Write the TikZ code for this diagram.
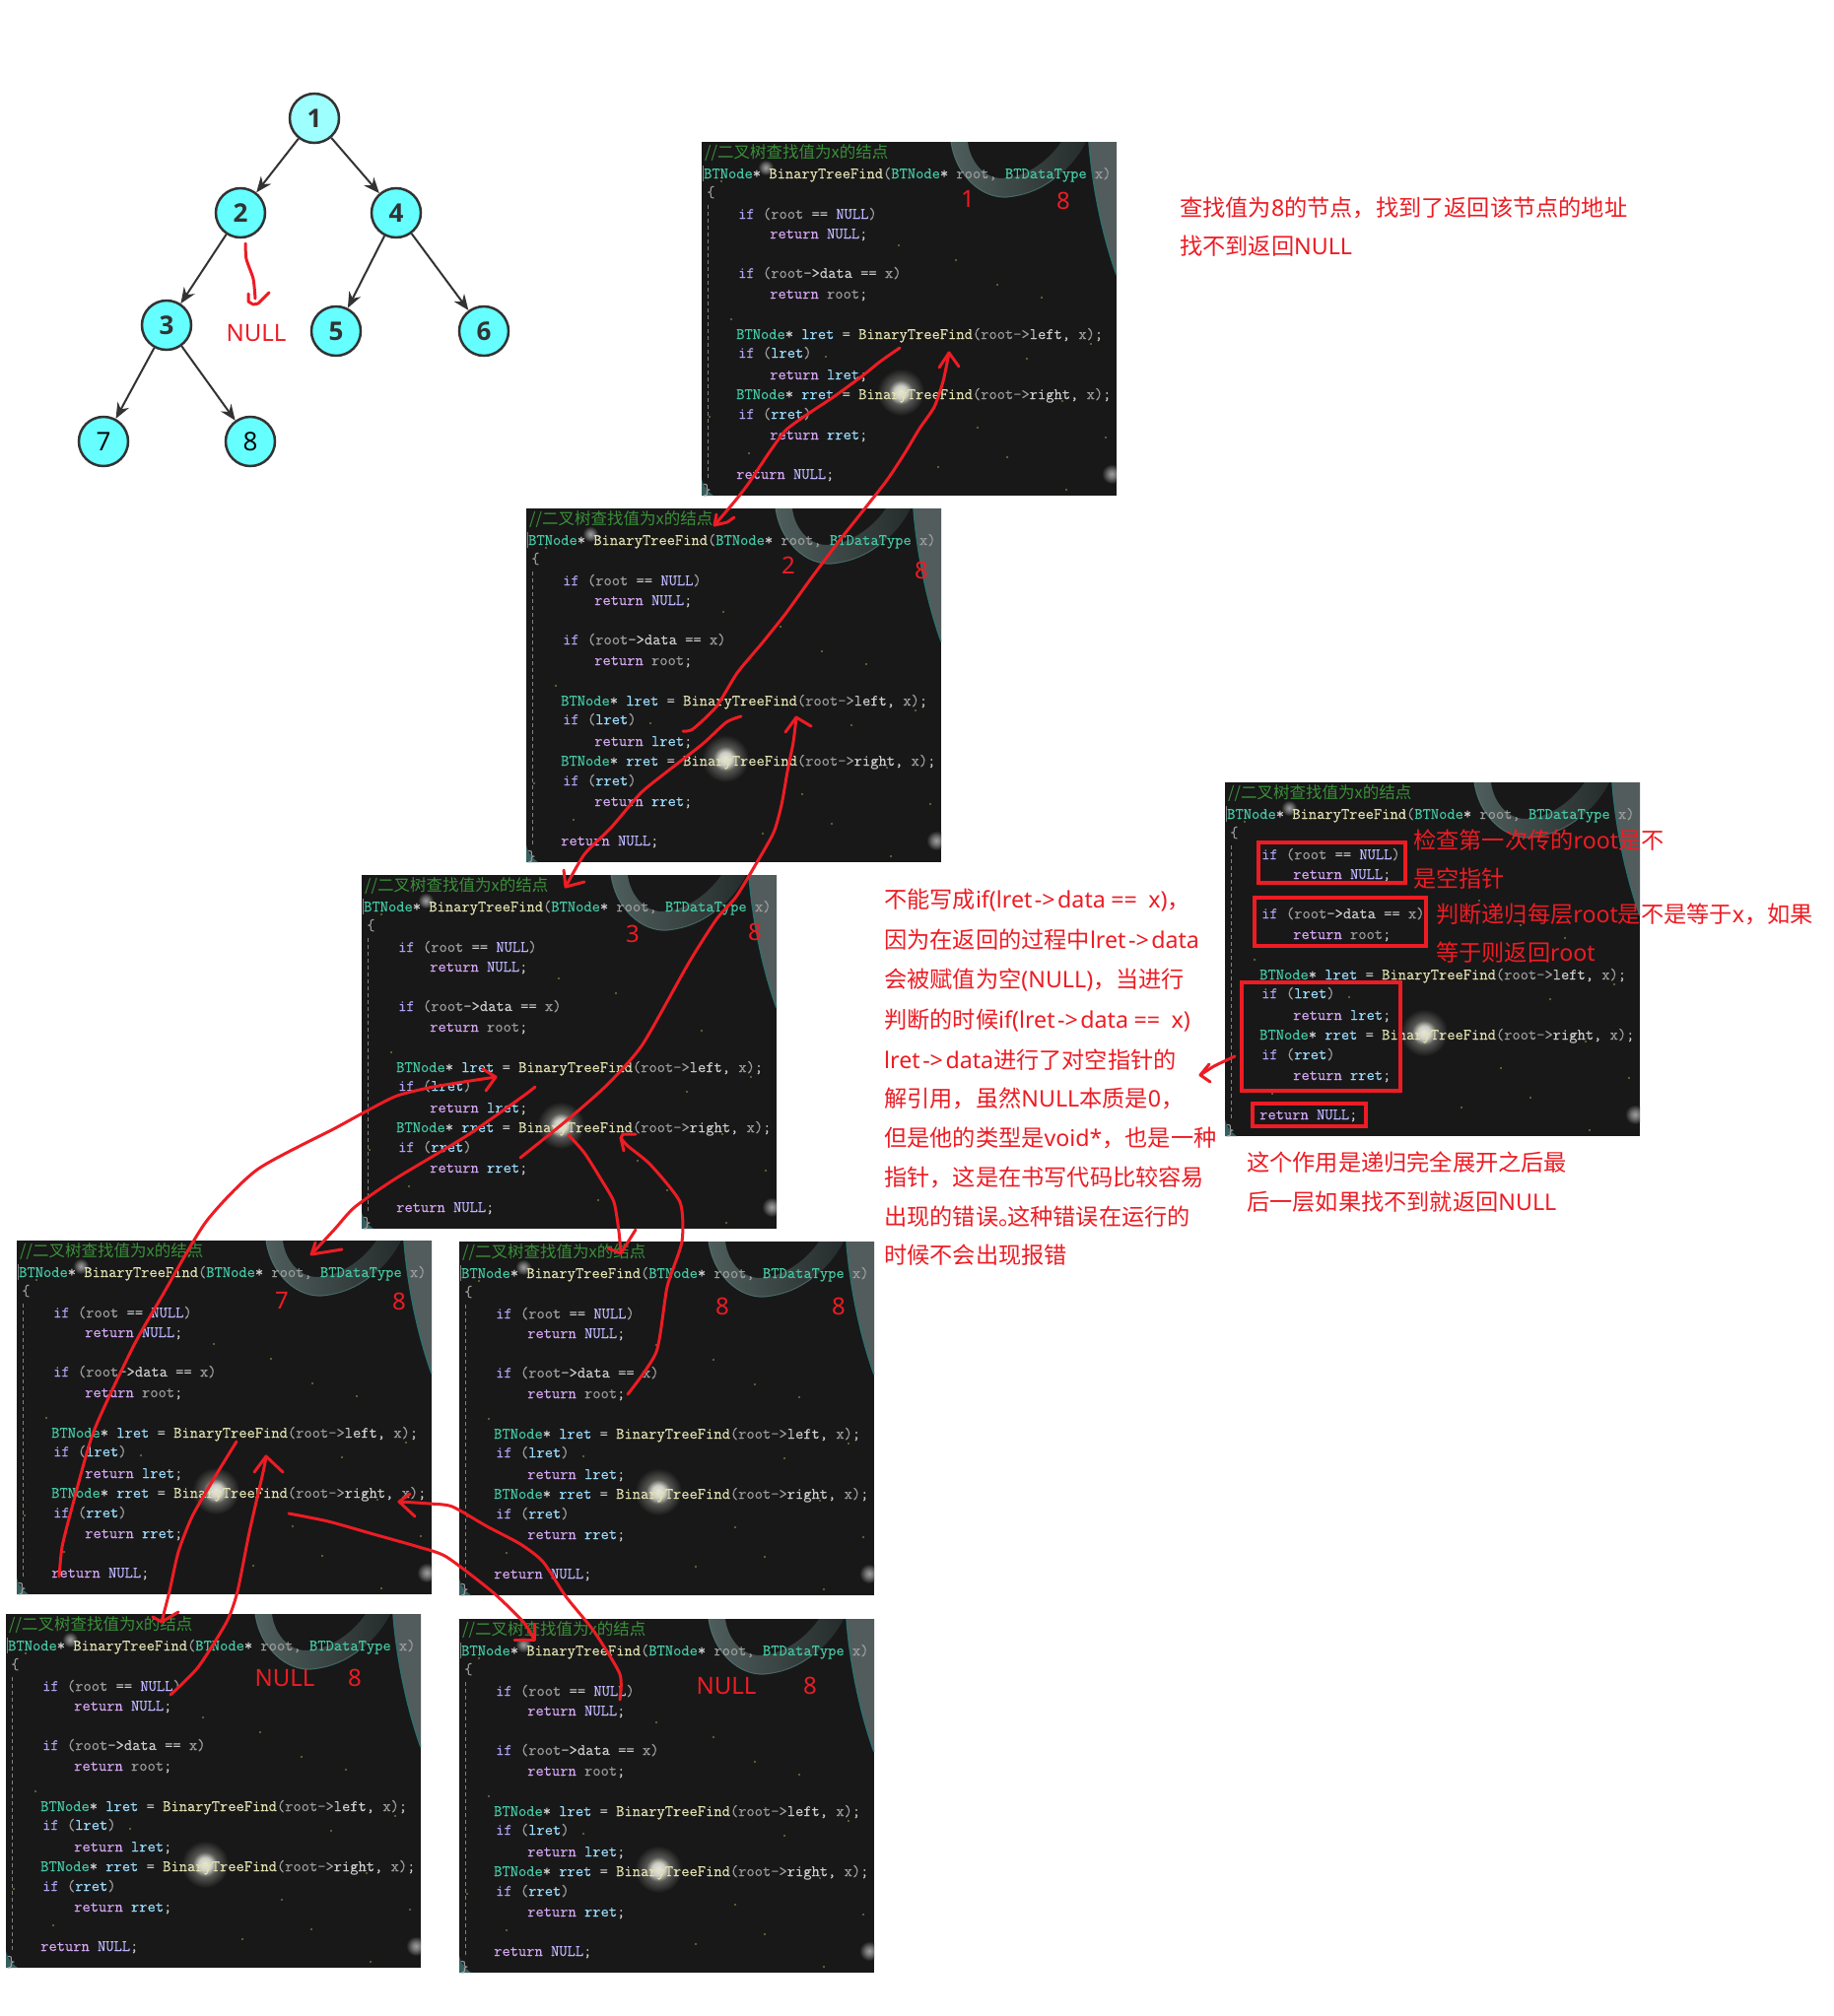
\documentclass[tikz,border=0pt]{standalone}
\usepackage{fontspec}
\usetikzlibrary{arrows.meta}
\newfontfamily\cjkf{Noto Sans CJK SC}
\newfontfamily\numf{Open Sans}
\newfontfamily\latf{Noto Sans}
\setmonofont[FakeBold=0.25]{Latin Modern Mono}
\newcommand\lat[1]{{\latf #1}}
\newcommand\lrd{lret\kern2.5pt->\kern2.5pt data}
\newcommand\eqq{\kern5.5pt == \kern5.5pt}
\definecolor{pbg}{HTML}{181818}
\definecolor{redink}{HTML}{ED1C24}
\definecolor{kwa}{HTML}{B0A4F4}
\definecolor{kwb}{HTML}{D4A6F2}
\definecolor{typec}{HTML}{45C8A4}
\definecolor{fnc}{HTML}{E2E2B2}
\definecolor{parc}{HTML}{9C9C9C}
\definecolor{nullc}{HTML}{BDB6FF}
\definecolor{varc}{HTML}{9CDCFE}
\definecolor{opc}{HTML}{CCCCCC}
\definecolor{cmtc}{HTML}{3A8F3A}
\definecolor{rootfill}{HTML}{9EFFFF}
\definecolor{nodefill}{HTML}{66FFFF}
\definecolor{edgec}{HTML}{333333}
\definecolor{moonl}{HTML}{4E5E5C}
\definecolor{moonr}{HTML}{262C2C}
\definecolor{moonrim}{HTML}{55807C}
\definecolor{bandf}{HTML}{525C5C}
\definecolor{bande}{HTML}{2F6E6C}
\definecolor{cornerf}{HTML}{355F5E}
\pgfdeclareradialshading{glowbig}{\pgfpointorigin}{rgb(0bp)=(.92,.92,.88);rgb(7bp)=(.8,.8,.76);rgb(13bp)=(.34,.34,.33);rgb(25bp)=(.094,.094,.094);rgb(50bp)=(.094,.094,.094)}
\pgfdeclareradialshading{glowdim}{\pgfpointorigin}{rgb(0bp)=(.62,.62,.62);rgb(10bp)=(.45,.45,.45);rgb(25bp)=(.094,.094,.094);rgb(50bp)=(.094,.094,.094)}
\newcommand\ifk{\textcolor{kwa}{if}}
\newcommand\retk{\textcolor{kwb}{return}}
\newcommand\btn{\textcolor{typec}{BTNode}\textcolor{opc}{*}}
\newcommand\fnk{\textcolor{fnc}{BinaryTreeFind}}
\newcommand\rootv{\textcolor{parc}{root}}
\newcommand\nullk{\textcolor{nullc}{NULL}}
\newcommand\lretv{\textcolor{varc}{lret}}
\newcommand\rretv{\textcolor{varc}{rret}}
\newcommand\opx[1]{\textcolor{opc}{#1}}
\newcommand\parx[1]{\textcolor{parc}{#1}}
\tikzset{
  x=1pt,y=-1pt,
  panelbg/.style={fill=pbg,draw=none,inner sep=0pt,minimum width=421pt,minimum height=359pt,anchor=north west},
  codeline/.style={inner sep=0pt,anchor=base west,font=\ttfamily\fontsize{16.05}{16}\selectfont},
  ink/.style={draw=redink,line width=3pt,line cap=round,line join=round},
  boxink/.style={draw=redink,line width=4pt,fill=none},
  treenode/.style={circle,draw=edgec,line width=2.5pt,fill=#1,minimum size=50pt,inner sep=0pt,text=edgec,font=\numf\bfseries\fontsize{26}{26}\selectfont},
  leafnode/.style={circle,draw=edgec,line width=2.5pt,fill=#1,minimum size=50pt,inner sep=0pt,text=black,font=\numf\fontsize{26}{26}\selectfont},
  treeedge/.style={draw=edgec,line width=2pt,-{Stealth[length=16pt,width=13pt]}},
  rednote/.style={inner sep=0pt,anchor=west,text=redink,font=\cjkf\fontsize{23.2}{24}\selectfont},
  rednum/.style={inner sep=0pt,text=redink,font=\latf\fontsize{24}{25}\selectfont},
}
\newcommand\codepanel[3]{%
  \node[panelbg] (#1) at (#2,#3) {};
  \begin{scope}[shift={(#2,#3)}]
    \begin{scope}
      \clip (0,0) rectangle (421,359);
      \shade[left color=moonl,right color=moonr] (253,0) .. controls (258,35) and (285,58) .. (310,56) .. controls (345,52) and (375,30) .. (390,0) -- (365,0) .. controls (350,22) and (325,37) .. (305,37) .. controls (285,37) and (272,18) .. (270,0) -- cycle;
      \draw[color=moonrim,line width=1pt,opacity=.7] (253,0) .. controls (258,35) and (285,58) .. (310,56) .. controls (330,54) and (345,47) .. (358,37);
      \fill[bandf] (393,0) .. controls (396,40) and (405,90) .. (421,135) -- (421,0) -- cycle;
      \draw[color=bande,line width=1.5pt] (393,0) .. controls (396,40) and (405,90) .. (421,135);
      \fill[cornerf] (0,342) .. controls (2,350) and (6,355) .. (12,359) -- (0,359) -- cycle;
      \shade[shading=glowbig] (202,254) circle (24);
      \shade[shading=glowdim] (416,337) circle (10);
      \shade[shading=glowdim] (65,26) circle (8);
      \foreach \sx/\sy in {345/158,126/218,48/316,370/353,8/279,366/263,258/120,300/145,20/40,150/70,240/330,330/220,395/205,410/300,280/290,175/15,30/180,200/105,310/320}
        \fill[yellow!50!gray,opacity=.55] (\sx,\sy) circle (1.1);
      \draw[gray,line width=.8pt,dash pattern=on 4pt off 3pt] (6,64) -- (6,343);
      \draw[gray,line width=.8pt] (1,24) -- (1,40);
    \end{scope}
    \node[inner sep=0pt,anchor=base west,font=\cjkf\fontsize{16.5}{16}\selectfont,text=cmtc] (#1c0) at (3,16) {//二叉树查找值为x的结点};
    \node[codeline] (#1c1) at (2,37) {\btn\ \fnk\parx{(}\btn\ \rootv\parx{,} \textcolor{typec}{BTDataType} \parx{x)}};
    \node[codeline] (#1c2) at (5,56) {\parx{\{}};
    \node[codeline] (#1c3) at (37,78) {\ifk\ \parx{(}\rootv\ \opx{==} \nullk\parx{)}};
    \node[codeline] (#1c4) at (69,98) {\retk\ \nullk\opx{;}};
    \node[codeline] (#1c5) at (37,138) {\ifk\ \parx{(root}\opx{->data ==} \parx{x)}};
    \node[codeline] (#1c6) at (69,159) {\retk\ \rootv\opx{;}};
    \node[codeline] (#1c7) at (35,200) {\btn\ \lretv\ \opx{=} \fnk\parx{(root->}\opx{left,} \parx{x)}\opx{;}};
    \node[codeline] (#1c8) at (37,219) {\ifk\ \parx{(}\lretv\parx{)}};
    \node[codeline] (#1c9) at (69,241) {\retk\ \lretv\opx{;}};
    \node[codeline] (#1c10) at (35,261) {\btn\ \rretv\ \opx{=} \fnk\parx{(root->}\opx{right,} \parx{x)}\opx{;}};
    \node[codeline] (#1c11) at (37,281) {\ifk\ \parx{(}\rretv\parx{)}};
    \node[codeline] (#1c12) at (69,302) {\retk\ \rretv\opx{;}};
    \node[codeline] (#1c13) at (35,342) {\retk\ \nullk\opx{;}};
    \node[codeline] (#1c14) at (1,358) {\parx{\}}};
  \end{scope}%
}
\begin{document}
\begin{tikzpicture}
\useasboundingbox (0,0) rectangle (1861,2046);
\fill[white] (0,0) rectangle (1861,2046);

% tree
\node[treenode=rootfill] (n1) at (319,120) {1};
\node[treenode=nodefill] (n2) at (244,216) {2};
\node[treenode=nodefill] (n4) at (402,216) {4};
\node[treenode=nodefill] (n3) at (169,330) {3};
\node[treenode=nodefill] (n5) at (341,336) {5};
\node[treenode=nodefill] (n6) at (491,336) {6};
\node[leafnode=nodefill] (n7) at (105,448) {7};
\node[leafnode=nodefill] (n8) at (254,448) {8};
\draw[treeedge] (n1) -- (n2);
\draw[treeedge] (n1) -- (n4);
\draw[treeedge] (n2) -- (n3);
\draw[treeedge] (n4) -- (n5);
\draw[treeedge] (n4) -- (n6);
\draw[treeedge] (n3) -- (n7);
\draw[treeedge] (n3) -- (n8);
\node[rednum] (nullt) at (260,338) {NULL};
\coordinate (t0) at (249,247);
\coordinate (t1) at (259,303);
\draw[ink] plot[smooth,tension=.4] coordinates {(t0) (250,263) (257,283) (t1)};
\draw[ink] (252,298) -- (252,306) -- (257,309) -- (262,308) -- (273,297);

% panels
\codepanel{pa}{712}{144}
\codepanel{pb}{534}{516}
\codepanel{pc}{367}{888}
\codepanel{pd}{17}{1259}
\codepanel{pe}{466}{1260}
\codepanel{pf}{6}{1638}
\codepanel{pg}{466}{1643}
\codepanel{ph}{1243}{794}

% red numbers
\node[rednum] (ra1) at (982,202) {1};
\node[rednum] (ra2) at (1079,204) {8};
\node[rednum] (rb1) at (800,574) {2};
\node[rednum] (rb2) at (935,579) {8};
\node[rednum] (rc1) at (642,948) {3};
\node[rednum] (rc2) at (766,946) {8};
\node[rednum] (rd1) at (286,1320) {7};
\node[rednum] (rd2) at (405,1321) {8};
\node[rednum] (re1) at (733,1326) {8};
\node[rednum] (re2) at (851,1326) {8};
\node[rednum] (rf1) at (289,1703) {NULL};
\node[rednum] (rf2) at (360,1703) {8};
\node[rednum] (rg1) at (737,1711) {NULL};
\node[rednum] (rg2) at (822,1711) {8};

% boxes on the last panel
\draw[boxink] (1277,855) rectangle (1426,896);
\draw[boxink] (1273,911) rectangle (1447,960);
\draw[boxink] (1260,997) rectangle (1421,1107);
\draw[boxink] (1271,1120) rectangle (1386,1143);

% notes
\node[rednote] (t1a) at (1197,211) {查找值为\lat{8}的节点，找到了返回该节点的地址};
\node[rednote] (t1b) at (1197,250) {找不到返回\lat{NULL}};
\node[rednote] (l1) at (897,914) {不能写成\lat{if(\lrd\eqq x)}，};
\node[rednote] (l2) at (897,954) {因为在返回的过程中\lat{\lrd}};
\node[rednote] (l3) at (897,995) {会被赋值为空\lat{(NULL)}，当进行};
\node[rednote] (l4) at (897,1036) {判断的时候\lat{if(\lrd\eqq x)}};
\node[rednote] (l5) at (897,1076) {\lat{\lrd}进行了对空指针的};
\node[rednote] (l6) at (897,1115) {解引用，虽然\lat{NULL}本质是\lat{0}，};
\node[rednote] (l7) at (897,1155) {但是他的类型是\lat{void*}，也是一种};
\node[rednote] (l8) at (897,1195) {指针，这是在书写代码比较容易};
\node[rednote] (l9) at (897,1235) {出现的错误\hbox to 9pt{。\hss}这种错误在运行的};
\node[rednote] (l10) at (897,1274) {时候不会出现报错};
\node[rednote] (h1) at (1434,853) {检查第一次传的\lat{root}是不};
\node[rednote] (h2) at (1434,892) {是空指针};
\node[rednote] (h3) at (1457,928) {判断递归每层\lat{root}是不是等于\lat{x}，如果};
\node[rednote] (h4) at (1457,967) {等于则返回\lat{root}};
\node[rednote] (h5) at (1265,1180) {这个作用是递归完全展开之后最};
\node[rednote] (h6) at (1265,1220) {后一层如果找不到就返回\lat{NULL}};

% hand-drawn arrows
\coordinate (a0) at (913,353); \coordinate (a1) at (725,533);
\draw[ink] plot[smooth,tension=.4] coordinates {(a0) (893,367) (877,380) (847,402) (817,422) (797,437) (780,460) (760,490) (747,507) (a1)};
\draw[ink] (727,522) -- (a1) -- (738,530) -- (745,525);

\coordinate (b0) at (693,742); \coordinate (b1) at (963,358);
\draw[ink] plot[smooth,tension=.4] coordinates {(b0) (703,740) (727,717) (748,683) (773,653) (797,623) (823,587) (853,547) (898,490) (918,460) (933,435) (948,413) (957,387) (b1)};
\draw[ink] (953,373) -- (b1) -- (973,372);

\coordinate (c0) at (752,727); \coordinate (c1) at (574,900);
\draw[ink] plot[smooth,tension=.4] coordinates {(c0) (737,733) (713,755) (677,783) (650,805) (620,840) (593,867) (c1)};
\draw[ink] (572,883) -- (c1) -- (593,895);

\coordinate (d0) at (528,1175); \coordinate (d1) at (808,728);
\draw[ink] plot[smooth,tension=.4] coordinates {(d0) (580,1133) (617,1100) (652,1060) (699,977) (727,933) (747,910) (767,877) (785,845) (793,817) (799,783) (805,753) (d1)};
\draw[ink] (797,743) -- (d1) -- (823,737);

\coordinate (e0) at (577,1152); \coordinate (e1) at (630,1272);
\draw[ink] plot[smooth,tension=.4] coordinates {(e0) (593,1170) (610,1197) (623,1220) (628,1250) (e1)};
\draw[ink] (617,1267) -- (e1) -- (645,1248);

\coordinate (f0) at (637,1415); \coordinate (f1) at (630,1155);
\draw[ink] plot[smooth,tension=.4] coordinates {(f0) (666,1372) (677,1306) (692,1260) (690,1220) (660,1182) (637,1163) (f1)};
\draw[ink] (633,1168) -- (f1) -- (632,1151) -- (645,1151);

\coordinate (g0) at (543,1103); \coordinate (g1) at (316,1273);
\draw[ink] plot[smooth,tension=.4] coordinates {(g0) (530,1113) (473,1153) (400,1197) (360,1225) (340,1247) (g1)};
\draw[ink] (320,1261) -- (g1) -- (347,1268);

\coordinate (h0) at (60,1600); \coordinate (h9) at (503,1093);
\draw[ink] plot[smooth,tension=.4] coordinates {(h0) (63,1570) (72,1534) (95,1453) (135,1367) (164,1316) (209,1240) (261,1187) (340,1145) (373,1127) (403,1112) (440,1103) (h9)};
\draw[ink] (490,1085) -- (h9) -- (493,1107);

\coordinate (i0) at (240,1463); \coordinate (i1) at (164,1646);
\draw[ink] plot[smooth,tension=.4] coordinates {(i0) (218,1499) (195,1539) (181,1575) (172,1615) (i1)};
\draw[ink] (155,1641) -- (i1) -- (181,1636);

\coordinate (j0) at (173,1720); \coordinate (j1) at (270,1478);
\draw[ink] plot[smooth,tension=.4] coordinates {(j0) (201,1692) (230,1646) (241,1615) (253,1555) (267,1494) (j1)};
\draw[ink] (258,1494) -- (j1) -- (287,1494);

\coordinate (k0) at (293,1536); \coordinate (k1) at (542,1664);
\draw[ink] plot[smooth,tension=.4] coordinates {(k0) (333,1544) (379,1557) (425,1570) (453,1580) (499,1615) (531,1646) (k1)};
\draw[ink] (522,1664) -- (k1) -- (542,1648);

\coordinate (m0) at (629,1725); \coordinate (m1) at (405,1524);
\draw[ink] plot[smooth,tension=.4] coordinates {(m0) (629,1699) (603,1656) (574,1620) (551,1585) (528,1567) (494,1549) (459,1529) (436,1526) (m1)};
\draw[ink] (416,1516) -- (m1) -- (421,1539);

\coordinate (q0) at (1253,1072); \coordinate (q1) at (1218,1091);
\draw[ink] plot[smooth,tension=.4] coordinates {(q0) (1232,1082) (q1)};
\draw[ink] (1227,1080) -- (q1) -- (1228,1098);
\end{tikzpicture}
\end{document}
